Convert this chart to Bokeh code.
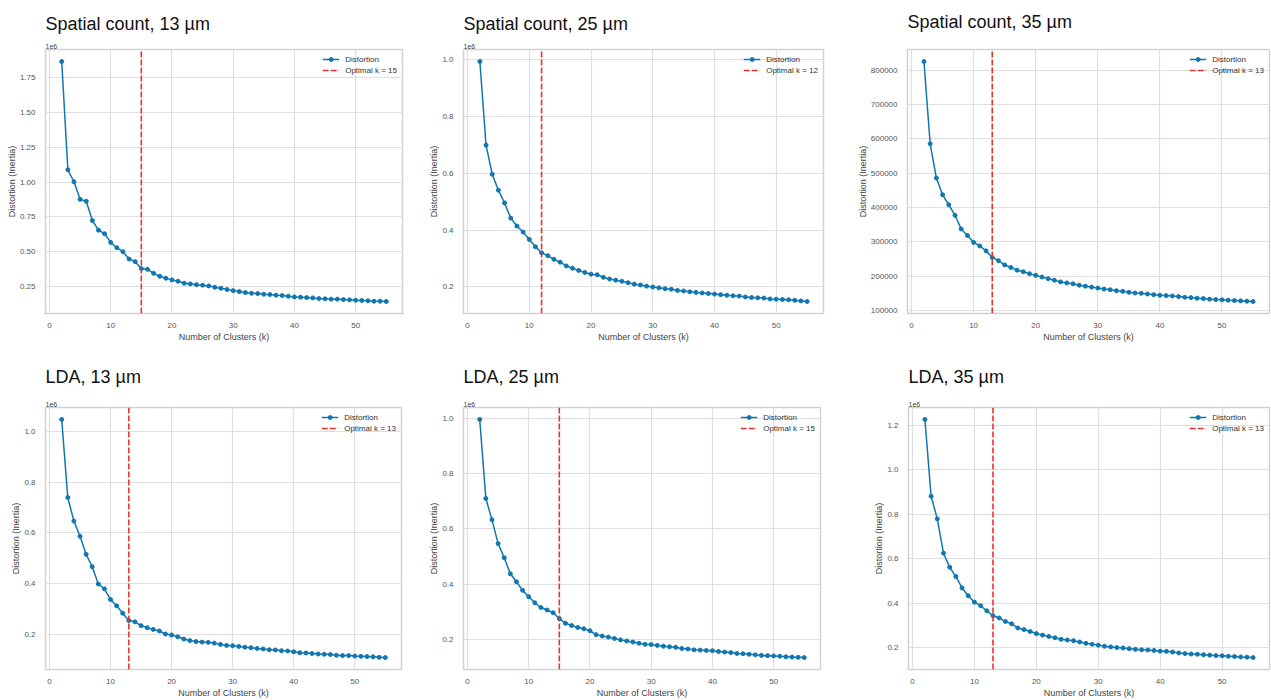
from bokeh.plotting import figure
from bokeh.layouts import column, row
from bokeh.models import Range1d, FixedTicker, Title
from bokeh.embed import file_html
from bokeh.resources import INLINE

# ---- data -------------------------------------------------------------
k_values = list(range(2, 56))

spatial_13 = [1865000, 1088000, 1002000, 876000, 862000, 724000, 655000, 629000, 567000, 529000,
              500000, 448000, 429000, 379000, 374000, 345000, 324000, 310000, 298000, 288000,
              274000, 269000, 264000, 260000, 255000, 245000, 238000, 229000, 221000, 214000,
              207000, 202000, 200000, 195000, 193000, 188000, 186000, 181000, 176000, 174000,
              171000, 169000, 164000, 162000, 160000, 160000, 157000, 155000, 152000, 150000,
              148000, 145000, 145000, 143000]
spatial_25 = [992000, 698000, 596000, 540000, 495000, 442000, 414000, 393000, 367000, 341000,
              320000, 310000, 297000, 287000, 274000, 266000, 258000, 251000, 245000, 243000,
              234000, 228000, 224000, 220000, 215000, 210000, 207000, 203000, 200000, 197000,
              194000, 192000, 188000, 186000, 183000, 181000, 179000, 177000, 175000, 173000,
              171000, 169000, 168000, 165000, 163000, 162000, 161000, 158000, 157000, 156000,
              155000, 153000, 151000, 149000]
spatial_35 = [825700, 586000, 486200, 437600, 408200, 377700, 337800, 318800, 298800, 288300,
              274100, 255000, 245500, 233200, 225500, 217900, 213200, 207500, 202700, 198000,
              193200, 188500, 183700, 180800, 178000, 174200, 171300, 168500, 165600, 162800,
              160900, 158000, 156100, 153300, 151400, 150400, 148500, 146600, 144700, 143800,
              142800, 140900, 139000, 138000, 136100, 135200, 133300, 132300, 131400, 130400,
              129500, 128500, 127600, 126600]
lda_13 = [1047000, 739000, 646000, 586000, 515000, 466000, 398000, 379000, 337000, 312000,
          283000, 254000, 249000, 234000, 226000, 219000, 213000, 201000, 197000, 190000,
          181000, 175000, 171000, 169000, 168000, 165000, 160000, 156000, 155000, 152000,
          149000, 147000, 144000, 142000, 139000, 138000, 135000, 134000, 131000, 127000,
          126000, 124000, 122000, 121000, 120000, 117000, 116000, 116000, 114000, 113000,
          112000, 111000, 109000, 108000]
lda_25 = [996000, 710000, 633000, 547000, 496000, 438000, 409000, 378000, 355000, 333000,
          316000, 307000, 297000, 276000, 259000, 251000, 244000, 239000, 232000, 218000,
          213000, 209000, 204000, 199000, 195000, 191000, 187000, 183000, 182000, 179000,
          176000, 174000, 172000, 168000, 166000, 163000, 162000, 161000, 160000, 157000,
          155000, 153000, 150000, 149000, 147000, 145000, 143000, 142000, 141000, 140000,
          138000, 137000, 136000, 135000]
lda_35 = [1226000, 881000, 779000, 625000, 562000, 520000, 469000, 434000, 405000, 389000,
          366000, 344000, 334000, 318000, 308000, 289000, 282000, 273000, 264000, 257000,
          251000, 245000, 238000, 235000, 232000, 226000, 220000, 216000, 212000, 207000,
          204000, 201000, 199000, 196000, 193000, 191000, 190000, 188000, 185000, 184000,
          181000, 177000, 174000, 172000, 171000, 169000, 167000, 165000, 164000, 162000,
          161000, 159000, 158000, 156000]

titles = ["Spatial count, 13 µm", "Spatial count, 25 µm", "Spatial count, 35 µm",
          "LDA, 13 µm", "LDA, 25 µm", "LDA, 35 µm"]
optimal_k = [15, 12, 13, 13, 15, 13]

x_ticks = [0, 10, 20, 30, 40, 50]
y_ticks_a = [250000, 500000, 750000, 1000000, 1250000, 1500000, 1750000]
y_labels_a = ["0.25", "0.50", "0.75", "1.00", "1.25", "1.50", "1.75"]
y_ticks_b = [200000, 400000, 600000, 800000, 1000000]
y_labels_b = ["0.2", "0.4", "0.6", "0.8", "1.0"]
y_ticks_c = [100000, 200000, 300000, 400000, 500000, 600000, 700000, 800000]
y_labels_c = ["100000", "200000", "300000", "400000", "500000", "600000", "700000", "800000"]
y_ticks_d = [200000, 400000, 600000, 800000, 1000000, 1200000]
y_labels_d = ["0.2", "0.4", "0.6", "0.8", "1.0", "1.2"]

# ---- styling ----------------------------------------------------------
FONT = "Liberation Sans"
BLUE = "#1177b0"
RED = "#e0352f"
GRID = "#dfdfdf"
FRAME = "#d2d2d2"


def elbow_panel(title, values, k_opt, y_ticks, y_labels, scale_text,
                width, height, left, right, top, bottom, title_gap):
    kmin, kmax = min(k_values), max(k_values)
    xpad = 0.05 * (kmax - kmin)
    lo, hi = min(values), max(values)
    ypad = 0.05 * (hi - lo)
    x0, x1 = kmin - xpad, kmax + xpad
    y0, y1 = lo - ypad, hi + ypad

    p = figure(width=width, height=height, title=None,
               x_range=Range1d(x0, x1), y_range=Range1d(y0, y1),
               output_backend="svg", toolbar_location=None,
               min_border_left=left, min_border_right=right,
               min_border_top=top, min_border_bottom=bottom)

    # offset text of the y axis sits right above the frame, the panel title above it
    p.add_layout(Title(text=scale_text if scale_text else " ", align="left",
                       text_font=FONT, text_font_size="7px",
                       text_font_style="normal", text_color="#444444",
                       standoff=1), "above")
    p.add_layout(Title(text=title, align="left", text_font=FONT,
                       text_font_size="18px", text_font_style="normal",
                       text_color="#111111", standoff=title_gap), "above")

    p.outline_line_color = FRAME
    p.outline_line_width = 1.5
    p.background_fill_color = "white"
    p.border_fill_color = "white"

    for ax in (p.xaxis[0], p.yaxis[0]):
        ax.axis_line_color = None
        ax.major_tick_line_color = None
        ax.minor_tick_line_color = None
        ax.major_label_text_font = FONT
        ax.major_label_text_font_size = "8px"
        ax.major_label_text_color = "#555555"
        ax.axis_label_text_font = FONT
        ax.axis_label_text_font_size = "9px"
        ax.axis_label_text_font_style = "normal"
        ax.axis_label_text_color = "#444444"
    p.xaxis.major_label_standoff = 3
    p.xaxis.axis_label_standoff = 1
    p.yaxis.major_label_standoff = 4
    p.yaxis.axis_label_standoff = 0

    p.xaxis.ticker = FixedTicker(ticks=x_ticks)
    p.yaxis.ticker = FixedTicker(ticks=y_ticks)
    p.yaxis.major_label_overrides = dict(zip(y_ticks, y_labels))
    p.xaxis.axis_label = "Number of Clusters (k)"
    p.yaxis.axis_label = "Distortion (Inertia)"

    p.xgrid.grid_line_color = GRID
    p.ygrid.grid_line_color = GRID
    p.xgrid.grid_line_width = 1.2
    p.ygrid.grid_line_width = 1.2

    p.line(k_values, values, line_color=BLUE, line_width=1.5,
           legend_label="Distortion")
    p.scatter(k_values, values, size=4, fill_color=BLUE, line_color=BLUE,
              legend_label="Distortion")
    p.segment(x0=[k_opt], y0=[y0], x1=[k_opt], y1=[y1], line_color=RED,
              line_width=1.6, line_dash="6 2",
              legend_label=f"Optimal k = {k_opt}")

    lg = p.legend[0]
    lg.location = "top_right"
    lg.background_fill_alpha = 0
    lg.border_line_color = None
    lg.label_text_font = FONT
    lg.label_text_font_size = "8px"
    lg.label_text_color = "#333333"
    lg.label_height = 10
    lg.glyph_height = 10
    lg.glyph_width = 17
    lg.label_standoff = 6
    lg.spacing = 1
    lg.padding = 2
    lg.margin = 5
    return p


p1 = elbow_panel(titles[0], spatial_13, optimal_k[0], y_ticks_a, y_labels_a, "1e6",
                 420, 344, 45, 18, 49, 27, 16)
p2 = elbow_panel(titles[1], spatial_25, optimal_k[1], y_ticks_b, y_labels_b, "1e6",
                 420, 344, 43, 17, 48, 28, 16)
p3 = elbow_panel(titles[2], spatial_35, optimal_k[2], y_ticks_c, y_labels_c, "",
                 431, 344, 67, 2, 48, 27, 16)
p4 = elbow_panel(titles[3], lda_13, optimal_k[3], y_ticks_b, y_labels_b, "1e6",
                 420, 356, 45, 19, 63, 27, 26)
p5 = elbow_panel(titles[4], lda_25, optimal_k[4], y_ticks_b, y_labels_b, "1e6",
                 420, 356, 43, 20, 61, 28, 26)
p6 = elbow_panel(titles[5], lda_35, optimal_k[5], y_ticks_d, y_labels_d, "1e6",
                 431, 356, 68, 2, 60, 26, 26)

page = column(row(p1, p2, p3, spacing=0), row(p4, p5, p6, spacing=0), spacing=0)

with open("out.html", "w") as f:
    f.write(file_html(page, INLINE))
